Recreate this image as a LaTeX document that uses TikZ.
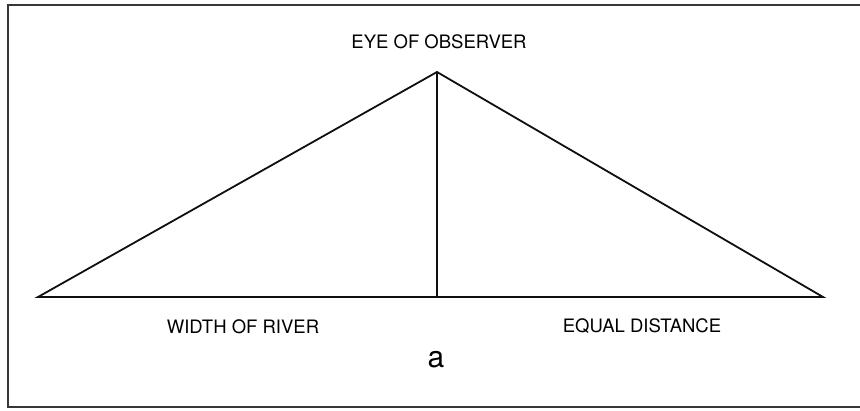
\documentclass[tikz,border=0pt]{standalone}
\usepackage{fontspec}
\setmainfont{TeX Gyre Heros}
\usepackage{tikz}
\usetikzlibrary{calc}
\definecolor{sightline}{RGB}{15,15,15}
\definecolor{framegrey}{RGB}{55,55,55}
\newcommand{\caplabel}[3]{%
  % Labels sit centred on a point given in pixel units.
  \node[font=\fontsize{18.5}{21}\selectfont,inner sep=0pt] (#1) at (#2) {#3};
}

\begin{document}
\begin{tikzpicture}[x=1pt,y=1pt]
    \useasboundingbox (0,0) rectangle (860,410);
    \draw[framegrey,line width=1.8pt] (860,405) -- (8,405) -- (8,3) -- (860,3);
    \coordinate (eye) at (437,338);
    \coordinate (bankL) at (38,113);
    \coordinate (bankR) at (823,113);
    \coordinate (foot) at (437,113);
    \draw[sightline,line width=1.8pt,line join=miter] (bankL) -- (eye) -- (bankR) -- cycle;
    \draw[sightline,line width=1.8pt] (eye) -- (foot);
    \caplabel{observer}{439,368}{EYE OF OBSERVER}
    \caplabel{width}{243,83}{WIDTH OF RIVER}
    \caplabel{equal}{642,84}{EQUAL DISTANCE}
    \node[font=\fontsize{30}{32}\selectfont,inner sep=0pt,anchor=base] (tag) at (436,42) {a};
  \end{tikzpicture}
\end{document}
